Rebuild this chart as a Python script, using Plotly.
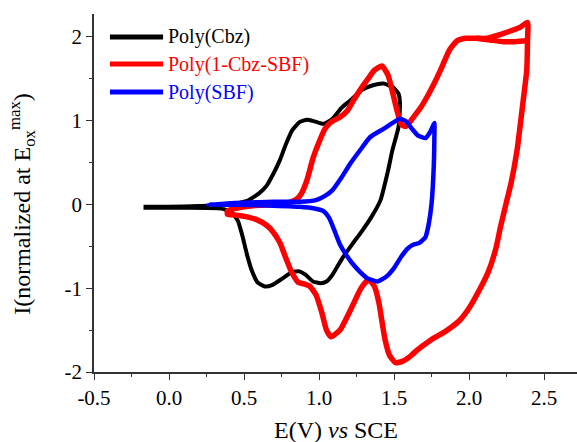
import plotly.graph_objects as go

# ---- data ----
cbz_E = [-0.17, 0.0, 0.2, 0.35, 0.45, 0.52, 0.6, 0.65, 0.7, 0.74, 0.78, 0.82, 0.87, 0.92, 0.97,
         1.03, 1.09, 1.15, 1.21, 1.29, 1.36, 1.43, 1.49, 1.53, 1.54,
         1.53, 1.49, 1.46, 1.41, 1.35, 1.29, 1.22, 1.16, 1.09, 1.05, 1.01, 0.96, 0.91, 0.87, 0.82,
         0.76, 0.69, 0.64, 0.59, 0.55, 0.52, 0.49, 0.46, 0.42, 0.35, 0.1, -0.17]
cbz_I = [-0.03, -0.03, -0.02, -0.01, 0.01, 0.04, 0.13, 0.22, 0.38, 0.53, 0.72, 0.88, 0.98, 1.01, 0.99,
         0.96, 1.02, 1.15, 1.24, 1.37, 1.42, 1.44, 1.40, 1.32, 1.20,
         0.92, 0.65, 0.40, 0.05, -0.15, -0.31, -0.48, -0.63, -0.84, -0.92, -0.94, -0.92, -0.84, -0.80, -0.81,
         -0.88, -0.96, -0.98, -0.93, -0.78, -0.60, -0.38, -0.20, -0.10, -0.05, -0.04, -0.04]

cbzsbf_E = [0.39, 0.5, 0.6, 0.7, 0.8, 0.85, 0.88, 0.92, 0.96, 1.0, 1.04, 1.08, 1.14, 1.19, 1.23,
            1.28, 1.32, 1.37, 1.42, 1.46, 1.49, 1.52, 1.55, 1.58, 1.63, 1.68, 1.72, 1.77, 1.81,
            1.87, 1.92, 1.98, 2.05, 2.12, 2.20, 2.28, 2.34, 2.39,
            2.39, 2.385, 2.36, 2.32, 2.28, 2.25, 2.21, 2.18, 2.13, 2.07, 2.00, 1.94, 1.88, 1.83,
            1.77, 1.72, 1.66, 1.61, 1.56, 1.51, 1.47, 1.44, 1.42, 1.40, 1.37, 1.33, 1.28, 1.21,
            1.14, 1.08, 1.05, 1.02, 0.98, 0.94, 0.90, 0.86, 0.83, 0.81, 0.77, 0.74, 0.69, 0.65,
            0.58, 0.52, 0.45, 0.39, 0.39,
            None, 2.05, 2.14, 2.23, 2.31, 2.39]
cbzsbf_I = [-0.08, -0.03, -0.01, 0.0, 0.02, 0.06, 0.12, 0.29, 0.55, 0.74, 0.90, 0.98, 1.04, 1.12, 1.24,
            1.38, 1.48, 1.60, 1.65, 1.54, 1.34, 1.12, 0.95, 0.93, 1.04, 1.16, 1.28, 1.45, 1.60,
            1.84, 1.95, 1.98, 1.98, 1.98, 2.02, 2.07, 2.11, 2.17,
            1.95, 1.60, 1.22, 0.64, 0.25, 0.03, -0.27, -0.52, -0.80, -1.02, -1.24, -1.38, -1.47, -1.53,
            -1.59, -1.65, -1.73, -1.81, -1.87, -1.89, -1.80, -1.61, -1.40, -1.18, -0.98, -0.90, -1.00, -1.26,
            -1.50, -1.58, -1.50, -1.30, -1.08, -0.98, -0.95, -0.93, -0.85, -0.78, -0.60, -0.46, -0.32, -0.25,
            -0.18, -0.15, -0.13, -0.12, -0.08,
            None, 1.98, 1.96, 1.94, 1.94, 1.95]

sbf_E = [0.26, 0.5, 0.7, 0.87, 0.98, 1.04, 1.09, 1.15, 1.21, 1.28, 1.34, 1.43, 1.50, 1.54, 1.58,
         1.62, 1.66, 1.71, 1.74, 1.77,
         1.77, 1.765, 1.75, 1.73, 1.71, 1.67, 1.63, 1.59, 1.55, 1.50, 1.45, 1.39, 1.32, 1.27, 1.22,
         1.18, 1.14, 1.10, 1.07, 1.03, 0.97, 0.87, 0.6, 0.26]
sbf_I = [0.0, 0.02, 0.03, 0.03, 0.05, 0.10, 0.17, 0.32, 0.49, 0.66, 0.80, 0.90, 0.98, 1.02, 0.99,
         0.90, 0.82, 0.79, 0.86, 0.97,
         0.90, 0.45, 0.0, -0.25, -0.39, -0.46, -0.48, -0.53, -0.62, -0.76, -0.86, -0.92, -0.88, -0.80, -0.70,
         -0.60, -0.48, -0.30, -0.17, -0.08, -0.05, -0.03, -0.01, 0.0]

series_names = ["Poly(Cbz)", "Poly(1-Cbz-SBF)", "Poly(SBF)"]
series_colors = ["#000000", "#ff0000", "#0000ff"]
series_widths = [4, 5.5, 4.5]
series_E = [cbz_E, cbzsbf_E, sbf_E]
series_I = [cbz_I, cbzsbf_I, sbf_I]

x_tickvals = [-0.5, 0.0, 0.5, 1.0, 1.5, 2.0, 2.5]
x_ticktext = ["-0.5", "0.0", "0.5", "1.0", "1.5", "2.0", "2.5"]
y_tickvals = [-2, -1, 0, 1, 2]
y_ticktext = ["-2", "-1", "0", "1", "2"]

FONT = "Liberation Serif, Times New Roman, serif"

fig = go.Figure()
for E, I, name, col, w in zip(series_E, series_I, series_names, series_colors, series_widths):
    fig.add_trace(go.Scatter(x=E, y=I, mode="lines", name=name,
                             line=dict(color=col, width=w, shape="spline", smoothing=0.5),
                             connectgaps=False, showlegend=False, hoverinfo="skip"))

# manual legend (line sample + coloured label)
leg_y = [0.936, 0.860, 0.782]
for name, col, yy in zip(series_names, series_colors, leg_y):
    fig.add_shape(type="line", xref="paper", yref="paper", x0=0.033, x1=0.143, y0=yy, y1=yy,
                  line=dict(color=col, width=5))
    fig.add_annotation(xref="paper", yref="paper", x=0.149, y=yy, xanchor="left", yanchor="middle",
                       text=name, showarrow=False, font=dict(family=FONT, size=20, color=col))

# axis titles
fig.add_annotation(xref="paper", yref="paper", x=0.5, y=-0.162, xanchor="center", yanchor="middle",
                   text="E(V) <i>vs</i> SCE", showarrow=False,
                   font=dict(family=FONT, size=24, color="#000000"))
fig.add_annotation(xref="paper", yref="paper", x=-0.149, y=0.47, xanchor="center", yanchor="middle",
                   textangle=-90, text="I(normalized at E<sub>ox</sub><sup>max</sup>)", showarrow=False,
                   font=dict(family=FONT, size=24, color="#000000"))

axis_common = dict(showline=True, linecolor="#333333", linewidth=1.6, showgrid=False, automargin=False,
                   zeroline=False, ticks="outside", ticklen=6, tickwidth=1.3, tickcolor="#333333",
                   tickfont=dict(family=FONT, size=21, color="#000000"))

fig.update_layout(
    width=577, height=442,
    margin=dict(l=94, r=0, t=14, b=70),
    paper_bgcolor="white", plot_bgcolor="white",
    font=dict(family=FONT),
    xaxis=dict(range=[-0.5, 2.72], tickvals=x_tickvals, ticktext=x_ticktext,
               minor=dict(dtick=0.25, tick0=-0.5, ticks="outside", ticklen=3, tickcolor="#333333", tickwidth=1.2),
               **axis_common),
    yaxis=dict(range=[-2, 2.27], tickvals=y_tickvals, ticktext=y_ticktext,
               minor=dict(dtick=0.5, tick0=-2, ticks="outside", ticklen=3, tickcolor="#333333", tickwidth=1.2),
               **axis_common),
)

fig.write_html("out.html", config={"displayModeBar": False},
               post_script="document.body.style.margin='0';document.body.style.padding='0';"
                           "document.body.style.overflow='hidden';")
